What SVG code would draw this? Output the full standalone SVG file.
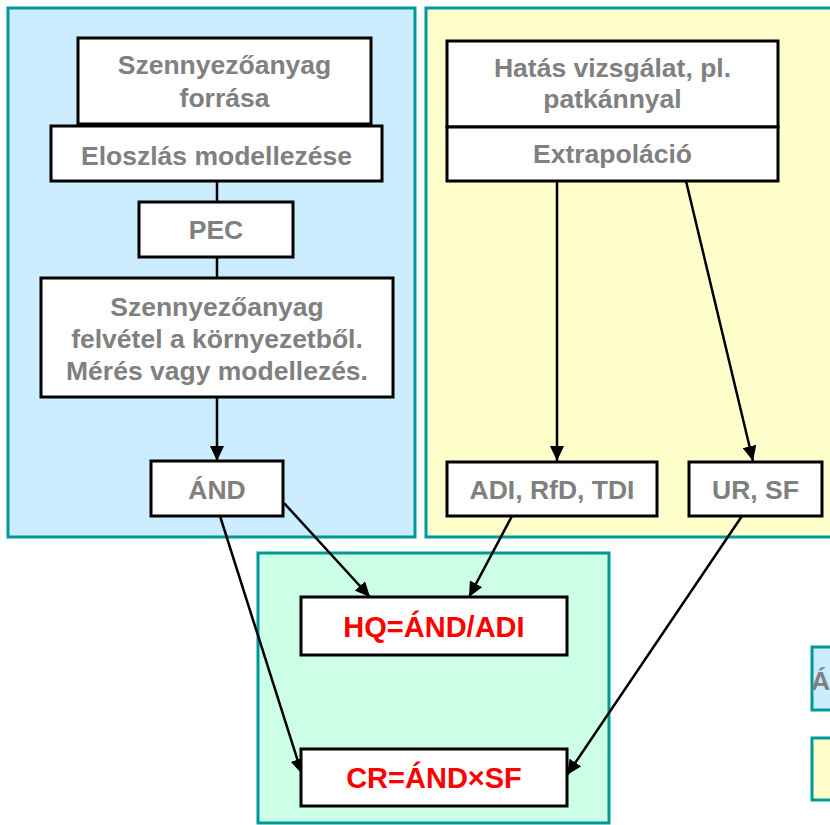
<svg xmlns="http://www.w3.org/2000/svg" width="830" height="825" viewBox="0 0 830 825">
<defs>
<style>
.panel{stroke:#009999;stroke-width:3}
.box{fill:#ffffff;stroke:#000000;stroke-width:3}
.t{font-family:"Liberation Sans",Arial,sans-serif;font-weight:bold;font-size:26.5px;fill:#808080;text-anchor:middle}
.r{font-family:"Liberation Sans",Arial,sans-serif;font-weight:bold;font-size:29px;fill:#ff0000;text-anchor:middle}
.c{stroke:#000000;stroke-width:2.5;fill:none}
.a{marker-end:url(#ah)}
</style>
<marker id="ah" markerWidth="16" markerHeight="14" refX="15" refY="7" orient="auto" markerUnits="userSpaceOnUse">
<path d="M0,0 L15,7 L0,14 z" fill="#000000"/>
</marker>
</defs>
<rect width="830" height="825" fill="#ffffff"/>
<g id="panels">
<rect class="panel" x="8" y="8" width="407" height="529" fill="#CCECFF"/>
<rect class="panel" x="426" y="8" width="410" height="529" fill="#FFFFCC"/>
<rect class="panel" x="258" y="553" width="351" height="270" fill="#CCFFE5"/>
<rect class="panel" x="812" y="647" width="30" height="63" fill="#CCECFF"/>
<rect class="panel" x="812" y="738" width="30" height="62" fill="#FFFFCC"/>
<text class="t" x="811" y="690" style="text-anchor:start">Á</text>
</g>
<g id="connectors">
<line class="c" x1="217" y1="123" x2="217" y2="126"/>
<line class="c" x1="217" y1="181" x2="217" y2="202"/>
<line class="c" x1="217" y1="257" x2="217" y2="278"/>
<line class="c a" x1="217" y1="397" x2="217" y2="461"/>
<line class="c a" x1="557" y1="181" x2="557" y2="461"/>
<line class="c a" x1="686" y1="181" x2="753" y2="461"/>
<line class="c a" x1="284" y1="503" x2="370" y2="597"/>
<line class="c a" x1="512" y1="516" x2="469" y2="597"/>
<line class="c a" x1="220" y1="516" x2="302" y2="774"/>
<line class="c a" x1="742" y1="516" x2="567" y2="775"/>
</g>
<g id="forras">
<rect class="box" x="78" y="38" width="293" height="86"/>
<text class="t" x="224.5" y="74">Szennyezőanyag</text>
<text class="t" x="224.5" y="107">forrása</text>
</g>
<g id="eloszlas">
<rect class="box" x="51" y="126" width="331" height="55"/>
<text class="t" x="216.5" y="165">Eloszlás modellezése</text>
</g>
<g id="pec">
<rect class="box" x="139" y="202" width="154" height="55"/>
<text class="t" x="216" y="239">PEC</text>
</g>
<g id="felvetel">
<rect class="box" x="41" y="278" width="352" height="119"/>
<text class="t" x="217" y="316">Szennyezőanyag</text>
<text class="t" x="217" y="348">felvétel a környezetből.</text>
<text class="t" x="217" y="380">Mérés vagy modellezés.</text>
</g>
<g id="and">
<rect class="box" x="151" y="461" width="132" height="55"/>
<text class="t" x="217" y="499">ÁND</text>
</g>
<g id="hatas">
<rect class="box" x="447" y="41" width="331" height="86"/>
<text class="t" x="612.5" y="77">Hatás vizsgálat, pl.</text>
<text class="t" x="612.5" y="108">patkánnyal</text>
</g>
<g id="extrapolacio">
<rect class="box" x="447" y="127" width="331" height="54"/>
<text class="t" x="612.5" y="163">Extrapoláció</text>
</g>
<g id="adi">
<rect class="box" x="447" y="462" width="210" height="54"/>
<text class="t" x="552" y="499">ADI, RfD, TDI</text>
</g>
<g id="ursf">
<rect class="box" x="689" y="462" width="133" height="54"/>
<text class="t" x="755.5" y="499">UR, SF</text>
</g>
<g id="hq">
<rect class="box" x="301" y="597" width="266" height="58"/>
<text class="r" x="434" y="637">HQ=ÁND/ADI</text>
</g>
<g id="cr">
<rect class="box" x="301" y="749" width="266" height="57"/>
<text class="r" x="434" y="788">CR=ÁND×SF</text>
</g>
</svg>
